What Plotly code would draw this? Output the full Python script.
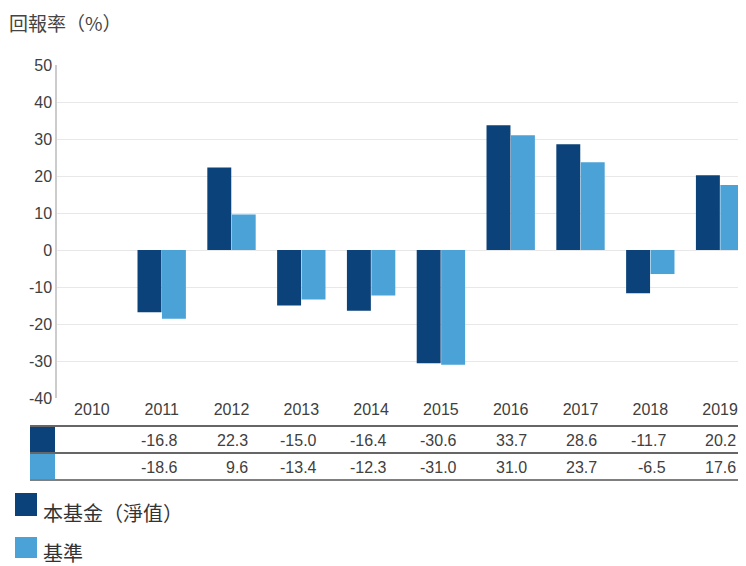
import plotly.graph_objects as go

years = ["2010", "2011", "2012", "2013", "2014", "2015", "2016", "2017", "2018", "2019"]
fund = [None, -16.8, 22.3, -15.0, -16.4, -30.6, 33.7, 28.6, -11.7, 20.2]
bench = [None, -18.6, 9.6, -13.4, -12.3, -31.0, 31.0, 23.7, -6.5, 17.6]
y_ticks = [-40, -30, -20, -10, 0, 10, 20, 30, 40, 50]
fund_name = "本基金（淨值）"
bench_name = "基準"
y_title = "回報率（%）"

DARK = "#0b4279"
LIGHT = "#4aa2d7"
TXT = "#404040"

OFF = 8  # page body margin
W, H = 746 - OFF, 566 - OFF
L, R, T, B = 49, 0, 57, 168
PW, PH = W - L - R, H - T - B

def px(sx):
    return (sx - OFF - L) / PW

def py(sy):
    return (H - B - (sy - OFF)) / PH

fig = go.Figure()
fig.add_trace(go.Bar(x=years, y=fund, name=fund_name, marker=dict(color=DARK, line=dict(width=0))))
fig.add_trace(go.Bar(x=years, y=bench, name=bench_name, marker=dict(color=LIGHT, line=dict(width=0))))

shapes = []
annotations = []

# table lines
for yy, col in [(426, "#333333"), (453, "#333333"), (480, "#555555")]:
    shapes.append(dict(type="line", xref="paper", yref="paper", x0=px(30), x1=px(744), y0=py(yy), y1=py(yy),
                       line=dict(color=col, width=1.5)))
# table color squares
shapes.append(dict(type="rect", xref="paper", yref="paper", x0=px(30), x1=px(55), y0=py(427), y1=py(452),
                   fillcolor=DARK, line=dict(width=0)))
shapes.append(dict(type="rect", xref="paper", yref="paper", x0=px(30), x1=px(55), y0=py(454), y1=py(479),
                   fillcolor=LIGHT, line=dict(width=0)))

for row_vals, yc in [(fund, 440), (bench, 467)]:
    for i, v in enumerate(row_vals):
        if v is None:
            continue
        annotations.append(dict(x=i, xref="x", y=py(yc), yref="paper", text=f"{v:.1f}", showarrow=False,
                                xanchor="right", yanchor="middle", xshift=18,
                                font=dict(family="Liberation Sans, Arial", size=16, color=TXT)))

# legend
shapes.append(dict(type="rect", xref="paper", yref="paper", x0=px(15), x1=px(37), y0=py(493), y1=py(516),
                   fillcolor=DARK, line=dict(width=0)))
shapes.append(dict(type="rect", xref="paper", yref="paper", x0=px(15), x1=px(37), y0=py(537), y1=py(558),
                   fillcolor=LIGHT, line=dict(width=0)))
annotations.append(dict(x=px(41), y=py(512), xref="paper", yref="paper", text=fund_name, showarrow=False,
                        xanchor="left", yanchor="middle",
                        font=dict(family="Noto Sans CJK TC", size=20, color="#333333")))
annotations.append(dict(x=px(41), y=py(552), xref="paper", yref="paper", text=bench_name, showarrow=False,
                        xanchor="left", yanchor="middle",
                        font=dict(family="Noto Sans CJK TC", size=20, color="#333333")))
# title
annotations.append(dict(x=px(7), y=py(23), xref="paper", yref="paper", text=y_title, showarrow=False,
                        xanchor="left", yanchor="middle",
                        font=dict(family="Noto Sans CJK TC", size=19, color="#444444")))

fig.update_layout(
    width=W, height=H,
    margin=dict(l=L, r=R, t=T, b=B),
    paper_bgcolor="white", plot_bgcolor="white",
    barmode="group", bargap=0.3, bargroupgap=0.02,
    showlegend=False,
    shapes=shapes, annotations=annotations,
    font=dict(family="Liberation Sans, Arial", size=16, color=TXT),
)
fig.update_xaxes(type="category", range=[-0.5, 9.371], showgrid=False, showline=False, ticks="",
                 tickfont=dict(size=16, color=TXT))
fig.update_yaxes(range=[-40, 50], tickvals=y_ticks, ticktext=[str(t) for t in y_ticks],
                 showgrid=True, gridcolor="#e8e8e8", gridwidth=1,
                 zeroline=True, zerolinecolor="#e8e8e8", zerolinewidth=1,
                 showline=True, linecolor="#cccccc", linewidth=1.5, ticks="",
                 tickfont=dict(size=16, color=TXT))

fig.write_html("out.html")
